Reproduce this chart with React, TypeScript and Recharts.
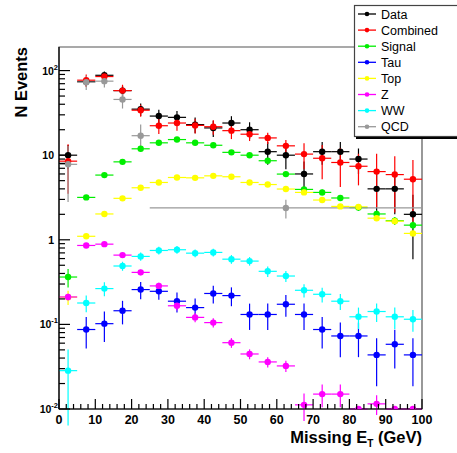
import { ComposedChart, Scatter, ErrorBar, XAxis, YAxis, ReferenceArea } from "recharts"

const binCenters = [2.5, 7.5, 12.5, 17.5, 22.5, 27.5, 32.5, 37.5, 42.5, 47.5, 52.5, 57.5, 62.5, 67.5, 72.5, 77.5, 82.5, 87.5, 92.5, 97.5]
const binHalf = [2.5, 2.5, 2.5, 2.5, 2.5, 2.5, 2.5, 2.5, 2.5, 2.5, 2.5, 2.5, 2.5, 2.5, 2.5, 2.5, 2.5, 2.5, 2.5, 2.5]

const dataVals = [10, 74, 88, 58, 35, 29, 28, 23, 21, 24, 20, 11, 10, 6, 11, 11, 9, 4, 4, 2]
const dataErr = [3.16, 8.6, 9.4, 7.6, 5.9, 5.4, 5.3, 4.8, 4.6, 4.9, 4.5, 3.3, 3.2, 2.4, 3.3, 3.3, 3, 2, 2, 1.41]

const combinedVals = [8.5, 77, 85, 58, 34, 22.3, 24, 22.5, 21.7, 19.5, 17.7, 16, 12.9, 10.3, 9.2, 8.2, 7.4, 6.4, 5.9, 5.2]
const combinedErr = [5, 13, 11, 10, 5.5, 4.5, 4.5, 4.4, 4.2, 4, 3, 2.4, 2.2, 3.5, 4, 4, 3, 4, 3.8, 3.6]

const signalVals = [0.363, 3.17, 5.82, 8.34, 11.9, 14, 15.3, 14, 13.1, 10.8, 10, 8.6, 5.98, 3.94, 3.63, 3.12, 2.4, 2.02, 1.68, 1.49]
const signalErr = [0.09, 0.2, 0.3, 0.4, 0.6, 0.7, 0.7, 0.7, 0.6, 0.5, 0.5, 0.45, 0.35, 0.3, 0.3, 0.25, 0.2, 0.2, 0.18, 0.16]

const tauVals = [null, 0.087, 0.102, 0.145, 0.258, 0.246, 0.188, 0.158, 0.232, 0.219, 0.131, 0.131, 0.173, 0.131, 0.087, 0.073, 0.073, 0.0436, 0.0582, 0.0436]
const tauErr = [0, 0.035, 0.04, 0.045, 0.06, 0.05, 0.05, 0.045, 0.055, 0.055, 0.045, 0.045, 0.05, 0.045, 0.035, 0.032, 0.032, 0.025, 0.028, 0.025]

const topVals = [0.21, 1.1, 2.02, 3.09, 4.12, 4.76, 5.45, 5.4, 5.7, 5.56, 4.76, 4.5, 3.98, 3.63, 2.95, 2.48, 2.45, 1.8, 1.66, 1.19]
const topErr = [0.04, 0.06, 0.1, 0.15, 0.2, 0.2, 0.22, 0.22, 0.22, 0.22, 0.2, 0.2, 0.18, 0.17, 0.15, 0.13, 0.13, 0.11, 0.1, 0.09]

const zVals = [0.211, 0.857, 0.888, 0.659, 0.412, 0.285, 0.166, 0.121, 0.105, 0.0608, 0.0447, 0.036, 0.0323, 0.0112, 0.015, 0.015, 0.01, 0.0115, 0.01, 0.01]
const zErr = [0.02, 0.05, 0.05, 0.04, 0.03, 0.025, 0.02, 0.015, 0.013, 0.008, 0.006, 0.005, 0.005, 0.004, 0.0045, 0.0045, 0, 0.003, 0, 0]

const wwVals = [0.0284, 0.179, 0.265, 0.49, 0.636, 0.748, 0.763, 0.695, 0.709, 0.59, 0.56, 0.424, 0.373, 0.253, 0.227, 0.188, 0.123, 0.142, 0.123, 0.115]
const wwErr = [0.022, 0.04, 0.05, 0.06, 0.07, 0.08, 0.08, 0.075, 0.075, 0.07, 0.065, 0.06, 0.055, 0.045, 0.045, 0.04, 0.035, 0.035, 0.035, 0.033]

// QCD has one wide bin from 25 to 100
const qcdCenters = [2.5, 7.5, 12.5, 17.5, 22.5, 62.5]
const qcdHalf = [2.5, 2.5, 2.5, 2.5, 2.5, 37.5]
const qcdVals = [7.8, 73, 75, 45.6, 17, 2.38]
const qcdErr = [5, 14, 12, 10, 6, 0.6]

const xMajorTicks = [0, 10, 20, 30, 40, 50, 60, 70, 80, 90, 100]
const xMinorTicks = [2, 4, 6, 8, 12, 14, 16, 18, 22, 24, 26, 28, 32, 34, 36, 38, 42, 44, 46, 48, 52, 54, 56, 58, 62, 64, 66, 68, 72, 74, 76, 78, 82, 84, 86, 88, 92, 94, 96, 98]
const yMajorTicks = [0.01, 0.1, 1, 10, 100]
const yTickBase = ["10", "10", "1", "10", "10"]
const yTickExp = ["-2", "-1", "", "", "2"]
const yMinorTicks = [
  0.02, 0.03, 0.04, 0.05, 0.06, 0.07, 0.08, 0.09,
  0.2, 0.3, 0.4, 0.5, 0.6, 0.7, 0.8, 0.9,
  2, 3, 4, 5, 6, 7, 8, 9,
  20, 30, 40, 50, 60, 70, 80, 90,
]

const font = "'Liberation Sans', Arial, Helvetica, sans-serif"

function build(xs: number[], exs: number[], vals: (number | null)[], errs: number[]) {
  const out: { x: number; y: number; ex: number; ey: number }[] = []
  vals.forEach((v, i) => {
    if (v != null) out.push({ x: xs[i], y: v, ex: exs[i], ey: errs[i] })
  })
  return out
}

const series = [
  { name: "Data", color: "#000000", data: build(binCenters, binHalf, dataVals, dataErr) },
  { name: "Combined", color: "#ff0000", data: build(binCenters, binHalf, combinedVals, combinedErr) },
  { name: "Signal", color: "#00ee00", data: build(binCenters, binHalf, signalVals, signalErr) },
  { name: "Tau", color: "#0000ff", data: build(binCenters, binHalf, tauVals, tauErr) },
  { name: "Top", color: "#ffff00", data: build(binCenters, binHalf, topVals, topErr) },
  { name: "Z", color: "#ff00ff", data: build(binCenters, binHalf, zVals, zErr) },
  { name: "WW", color: "#00ffff", data: build(binCenters, binHalf, wwVals, wwErr) },
  { name: "QCD", color: "#999999", data: build(qcdCenters, qcdHalf, qcdVals, qcdErr) },
]

const XTick = (props: any) => {
  const { x, y, payload } = props
  const major = xMajorTicks.includes(payload.value)
  return (
    <g>
      <line x1={x} x2={x} y1={y} y2={y - (major ? 10 : 5)} stroke="#000" strokeWidth={1.2} />
      {major && (
        <text x={x} y={y + 15} textAnchor="middle" fontFamily={font} fontWeight="bold" fontSize={12.5} fill="#000">
          {payload.value}
        </text>
      )}
    </g>
  )
}

const YTick = (props: any) => {
  const { x, y, payload } = props
  const idx = yMajorTicks.indexOf(payload.value)
  const major = idx >= 0
  return (
    <g>
      <line x1={x} x2={x + (major ? 11 : 6)} y1={y} y2={y} stroke="#000" strokeWidth={1.2} />
      {major && (
        <text
          x={yTickExp[idx] ? x - 1 : x - 5}
          y={y + 4}
          textAnchor="end"
          fontFamily={font}
          fontWeight="bold"
          fontSize={10.5}
          fill="#000"
        >
          {yTickBase[idx]}
          {yTickExp[idx] && (
            <tspan dy={-5} fontSize={7.5}>
              {yTickExp[idx]}
            </tspan>
          )}
        </text>
      )}
    </g>
  )
}

const Dot = (color: string) => (p: any) => <circle cx={p.cx} cy={p.cy} r={3.2} fill={color} />

export default function App() {
  return (
    <div style={{ position: "absolute", left: 0, top: 0, width: 457, height: 453, background: "#fff", overflow: "hidden" }}>
      <ComposedChart width={457} height={453} margin={{ top: 47, right: 35, left: 0, bottom: 0 }}>
        <XAxis
          dataKey="x"
          type="number"
          domain={[0, 100]}
          ticks={[...xMajorTicks, ...xMinorTicks].sort((a, b) => a - b)}
          interval={0}
          height={44}
          tickSize={0}
          tickMargin={0}
          tick={<XTick />}
          axisLine={{ stroke: "#000", strokeWidth: 1.2 }}
          allowDataOverflow
        />
        <YAxis
          dataKey="y"
          type="number"
          scale="log"
          domain={[0.01, 190]}
          ticks={[...yMajorTicks, ...yMinorTicks].sort((a, b) => a - b)}
          interval={0}
          width={59}
          tickSize={0}
          tickMargin={0}
          tick={<YTick />}
          axisLine={{ stroke: "#000", strokeWidth: 1.2 }}
          allowDataOverflow
        />
        <ReferenceArea x1={0} x2={100} y1={0.01} y2={190} fill="none" stroke="#555" strokeWidth={1.2} />
        {series.map((s) => (
          <Scatter key={s.name} name={s.name} data={s.data} dataKey="y" isAnimationActive={false} shape={Dot(s.color)}>
            <ErrorBar dataKey="ex" direction="x" width={0} stroke={s.color} strokeWidth={1.2} isAnimationActive={false} />
            <ErrorBar dataKey="ey" direction="y" width={0} stroke={s.color} strokeWidth={1.2} isAnimationActive={false} />
          </Scatter>
        ))}
      </ComposedChart>
      <svg width={457} height={453} style={{ position: "absolute", left: 0, top: 0, pointerEvents: "none" }}>
        <text transform="translate(27,47) rotate(-90)" textAnchor="end" fontFamily={font} fontWeight="bold" fontSize={16.5} fill="#000">
          N Events
        </text>
        <text x={422} y={443} textAnchor="end" fontFamily={font} fontWeight="bold" fontSize={16.5} fill="#000">
          Missing E<tspan fontSize={10} dy={4}>T</tspan>
          <tspan dy={-4}> (GeV)</tspan>
        </text>
        <rect x={356} y={136} width={110} height={3} fill="#000" />
        <rect x={354.5} y={5.5} width={110} height={131} fill="#fff" stroke="#444" strokeWidth={1.2} />
        {series.map((s, i) => {
          const y = 14 + i * 16.1
          return (
            <g key={s.name}>
              <line x1={358} x2={376} y1={y} y2={y} stroke={s.color} strokeWidth={1.3} />
              <circle cx={367} cy={y} r={2.3} fill={s.color} />
              <text x={381} y={y + 4.5} fontFamily={font} fontSize={12.5} fill="#000">
                {s.name}
              </text>
            </g>
          )
        })}
      </svg>
    </div>
  )
}
